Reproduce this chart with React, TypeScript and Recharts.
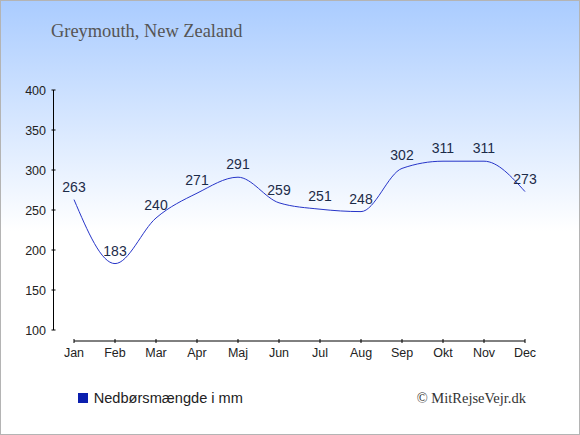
import { LabelList, Line, LineChart, ReferenceLine, XAxis, YAxis } from "recharts";

const months = ["Jan", "Feb", "Mar", "Apr", "Maj", "Jun", "Jul", "Aug", "Sep", "Okt", "Nov", "Dec"];
const rainfall = [263, 183, 240, 271, 291, 259, 251, 248, 302, 311, 311, 273];
const yTicks = [100, 150, 200, 250, 300, 350, 400];
const monthIndex = months.map((_, i) => i);

const data = months.map((m, i) => ({ i, month: m, rain: rainfall[i] }));

const sans = "'Liberation Sans', Arial, sans-serif";
const serif = "'Liberation Serif', 'Times New Roman', serif";

function YTick({ x, y, payload }: any) {
  return (
    <g>
      <line x1={x - 2} x2={x + 2} y1={y} y2={y} stroke="#000" />
      <text x={x - 7.5} y={y + 4.5} textAnchor="end" fontSize={12.5} fill="#222" fontFamily={sans}>
        {payload.value}
      </text>
    </g>
  );
}

function XTick({ x, y, payload }: any) {
  return (
    <g>
      <line x1={x} x2={x} y1={y - 2} y2={y + 2} stroke="#000" />
      <text x={x} y={y + 16} textAnchor="middle" fontSize={12.5} fill="#222" fontFamily={sans}>
        {months[payload.value]}
      </text>
    </g>
  );
}

export default function App() {
  return (
    <div
      style={{
        position: "absolute",
        left: 0,
        top: 0,
        width: 578,
        height: 433,
        border: "1px solid #b4b4b4",
        background: "linear-gradient(#aaccff 0px, #ffffff 230px)",
        overflow: "hidden",
      }}
    >
      <div
        style={{
          position: "absolute",
          left: 50,
          top: 20,
          fontFamily: serif,
          fontSize: 18.4,
          color: "#555",
          whiteSpace: "nowrap",
        }}
      >
        Greymouth, New Zealand
      </div>
      <div style={{ position: "absolute", left: -1, top: -1 }}>
        <LineChart width={580} height={435} data={data} margin={{ top: 90, right: 34.5, bottom: 64, left: 0 }}>
          <XAxis
            dataKey="i"
            type="number"
            domain={[-0.5, 11.5]}
            allowDataOverflow
            ticks={monthIndex}
            axisLine={false}
            tickLine={false}
            tickSize={0}
            tickMargin={0}
            height={30}
            tick={<XTick />}
            interval={0}
          />
          <YAxis
            type="number"
            domain={[86.25, 400]}
            allowDataOverflow
            ticks={yTicks}
            axisLine={false}
            tickLine={false}
            tickSize={0}
            tickMargin={0}
            width={53.5}
            tick={<YTick />}
            interval={0}
          />
          <ReferenceLine
            segment={[{ x: -0.5, y: 100 }, { x: -0.5, y: 400 }]}
            stroke="#000"
            ifOverflow="visible"
          />
          <ReferenceLine
            segment={[{ x: 0, y: 86.25 }, { x: 11, y: 86.25 }]}
            stroke="#000"
            ifOverflow="visible"
          />
          <Line
            type="monotone"
            dataKey="rain"
            stroke="#2634c8"
            strokeWidth={1}
            dot={false}
            activeDot={false}
            isAnimationActive={false}
          >
            <LabelList dataKey="rain" position="top" offset={8} fontSize={14} fill="#1c2b48" fontFamily={sans} />
          </Line>
        </LineChart>
      </div>
      <div
        style={{
          position: "absolute",
          left: 76.7,
          top: 389,
          display: "flex",
          alignItems: "center",
          fontFamily: sans,
          fontSize: 14.6,
          color: "#222",
          whiteSpace: "nowrap",
        }}
      >
        <span style={{ width: 10, height: 10, background: "#0b1fae", marginRight: 6, display: "inline-block" }} />
        Nedbørsmængde i mm
      </div>
      <div
        style={{
          position: "absolute",
          right: 53,
          top: 389,
          fontFamily: serif,
          fontSize: 14.5,
          color: "#333",
          whiteSpace: "nowrap",
        }}
      >
        © MitRejseVejr.dk
      </div>
    </div>
  );
}
